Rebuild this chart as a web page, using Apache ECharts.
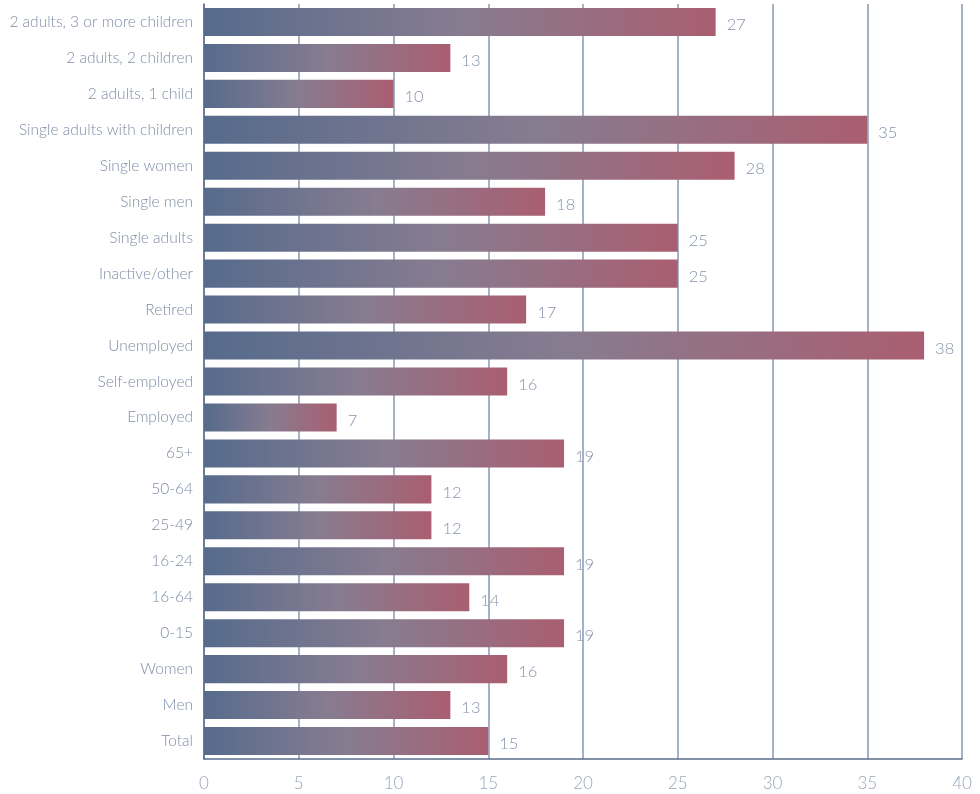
<!DOCTYPE html>
<html><head><meta charset="utf-8">
<script src="https://cdn.jsdelivr.net/npm/echarts@6/dist/echarts.min.js"></script>
<style>html,body{margin:0;padding:0;background:#fff}#c{width:980px;height:794px}</style>
</head><body><div id="c"></div>
<script>
const cats = ["Total","Men","Women","0-15","16-64","16-24","25-49","50-64","65+","Employed","Self-employed","Unemployed","Retired","Inactive/other","Single adults","Single men","Single women","Single adults with children","2 adults, 1 child","2 adults, 2 children","2 adults, 3 or more children"];
const values = [15,13,16,19,14,19,12,12,19,7,16,38,17,25,25,18,28,35,10,13,27];
const xTicks = [0,5,10,15,20,25,30,35,40];
const chart = echarts.init(document.getElementById('c'));
const font = 'Lato, "Open Sans", sans-serif';
chart.setOption({
  animation:false,
  grid:{left:204,right:18,top:4,bottom:35},
  xAxis:{type:'value',min:xTicks[0],max:xTicks[xTicks.length-1],interval:5,
    axisLine:{show:true,lineStyle:{color:'#5b6d8c',width:1.5}},
    axisTick:{show:false},
    splitLine:{show:true,lineStyle:{color:'#8797b2',width:1.5}},
    axisLabel:{color:'#9aa6bb',fontSize:17,fontFamily:font,fontWeight:300,margin:16}},
  yAxis:{type:'category',data:cats,
    axisLine:{show:true,lineStyle:{color:'#5b6d8c',width:1.5}},
    axisTick:{show:false},
    axisLabel:{color:'#7f8da6',fontSize:15.5,fontFamily:font,fontWeight:300,margin:11}},
  series:[{type:'bar',data:values,barWidth:'78%',
    itemStyle:{color:new echarts.graphic.LinearGradient(0,0,1,0,[
      {offset:0,color:'#566b8c'},{offset:0.5,color:'#877c90'},{offset:1,color:'#aa5e71'}])},
    label:{show:true,position:'right',distance:11,offset:[0,3],color:'#8593ab',fontSize:16.5,fontFamily:font,fontWeight:300}}]
});
</script></body></html>
